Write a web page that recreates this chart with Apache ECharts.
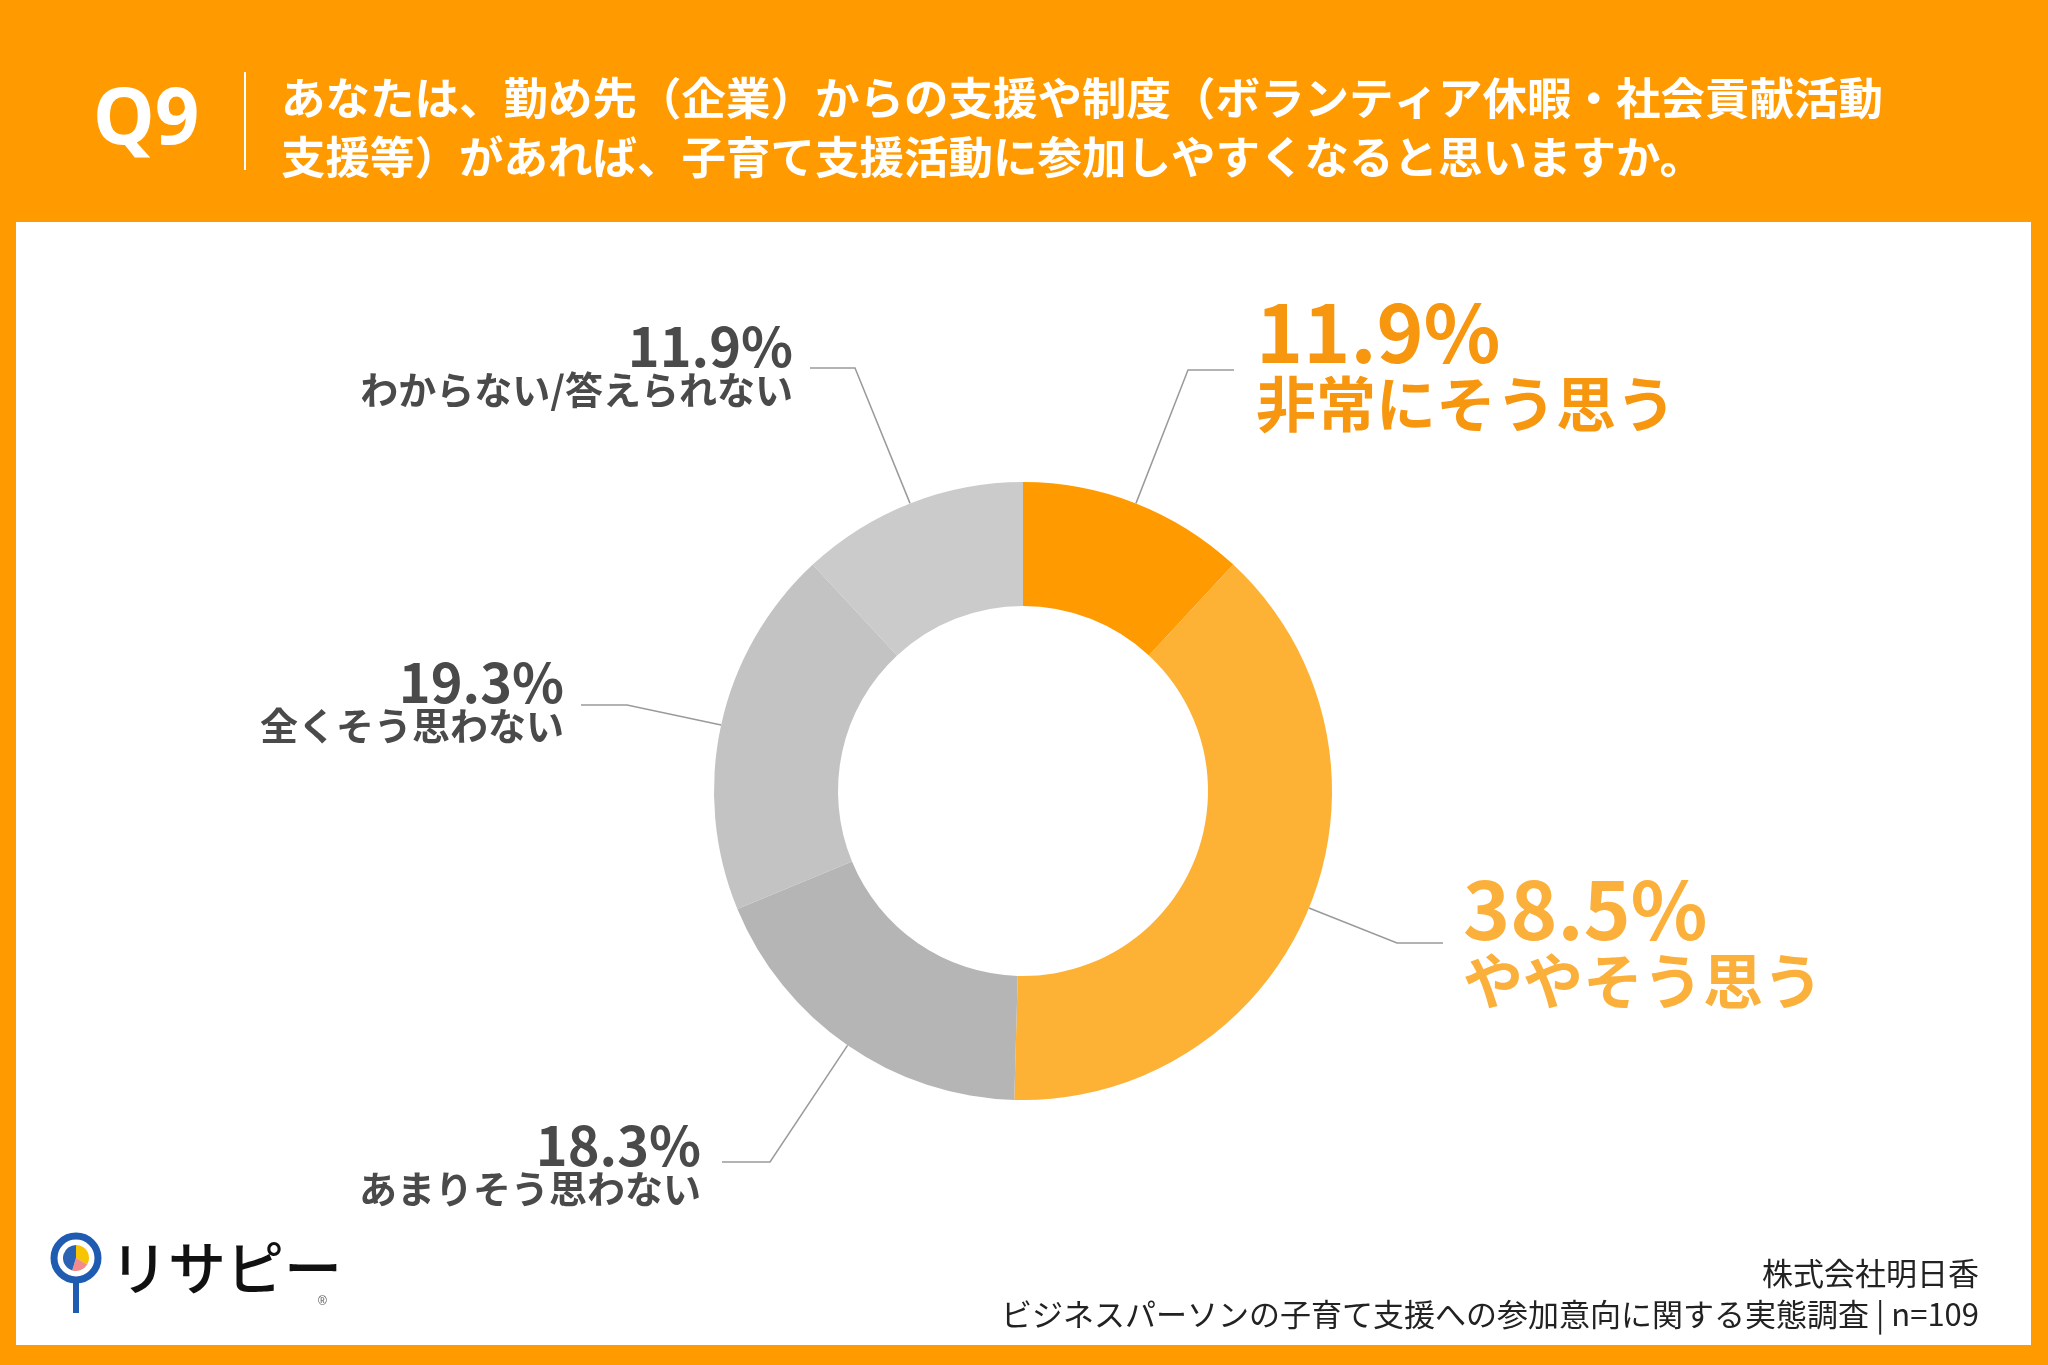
<!DOCTYPE html>
<html lang="ja">
<head>
    <meta charset="UTF-8">
    <title>Q9 子育て支援活動への参加</title>
    <script type="text/javascript" src="https://cdn.jsdelivr.net/npm/echarts@6/dist/echarts.min.js"></script>
    <style type="text/css">
        html, body { margin: 0; padding: 0; background: #ff9a00; }
        #main { width: 2048px; height: 1365px; }
    </style>
</head>
<body>
<div id="main"></div>
<script type="text/javascript">
    // データ
    var categories = ['非常にそう思う', 'ややそう思う', 'あまりそう思わない', '全くそう思わない', 'わからない/答えられない'];
    var values = [11.9, 38.5, 18.3, 19.3, 11.9];
    var titleLines = [
        'あなたは、勤め先（企業）からの支援や制度（ボランティア休暇・社会貢献活動',
        '支援等）があれば、子育て支援活動に参加しやすくなると思いますか。'
    ];
    var sourceLines = ['株式会社明日香', 'ビジネスパーソンの子育て支援への参加意向に関する実態調査 | n=109'];

    var sliceColors = ['#ff9a00', '#fdb135', '#b5b5b5', '#c3c3c3', '#cbcbcb'];
    var FONT = '"Noto Sans CJK JP", "Noto Sans", sans-serif';

    // ラベル位置 (x, 上端y, 揃え, 折れ点, 終点)
    var labelPos = [
        { x: 1256, y: 295, align: 'left', elbow: [1188, 370], end: [1234, 370] },
        { x: 1463, y: 872, align: 'left', elbow: [1397, 943], end: [1443, 943] },
        { x: 701, y: 1122, align: 'right', elbow: [770, 1162], end: [722, 1162] },
        { x: 564, y: 659, align: 'right', elbow: [627, 705], end: [581, 705] },
        { x: 793, y: 323, align: 'right', elbow: [855, 368], end: [810, 368] }
    ];

    var chart = echarts.init(document.getElementById('main'));

    var pieData = categories.map(function (name, i) {
        var item = { name: name, value: values[i], itemStyle: { color: sliceColors[i] } };
        // オレンジ系の文字色
        if (i === 0) item.label = { color: '#f7960f' };
        if (i === 1) item.label = { color: '#fbb03b' };
        return item;
    });

    chart.setOption({
        backgroundColor: '#ff9a00',
        animation: false,
        graphic: [
            // 白い枠
            { type: 'rect', shape: { x: 16, y: 222, width: 2015, height: 1123 }, style: { fill: '#ffffff' } },
            // ヘッダー
            { type: 'text', x: 93, y: 122, style: { text: 'Q9', fill: '#fff', font: 'bold 78px "Noto Sans", sans-serif', textVerticalAlign: 'middle' } },
            { type: 'line', shape: { x1: 245, y1: 72, x2: 245, y2: 170 }, style: { stroke: '#fff', lineWidth: 2 } },
            { type: 'text', x: 281, y: 98, style: { text: titleLines[0], fill: '#fff', font: 'bold 44.5px ' + FONT, textVerticalAlign: 'middle' } },
            { type: 'text', x: 281, y: 157, style: { text: titleLines[1], fill: '#fff', font: 'bold 44.5px ' + FONT, textVerticalAlign: 'middle' } },
            // 出典
            { type: 'text', x: 1979, y: 1273, style: { text: sourceLines[0], fill: '#222', font: '31px ' + FONT, textAlign: 'right', textVerticalAlign: 'middle' } },
            { type: 'text', x: 1979, y: 1314, style: { text: sourceLines[1], fill: '#222', font: '31px ' + FONT, textAlign: 'right', textVerticalAlign: 'middle' } },
            // ロゴ
            { type: 'line', shape: { x1: 76, y1: 1280, x2: 76, y2: 1313 }, style: { stroke: '#1f5bb0', lineWidth: 6 } },
            { type: 'circle', shape: { cx: 76, cy: 1258, r: 22 }, style: { fill: '#fff', stroke: '#1f5bb0', lineWidth: 7 } },
            { type: 'sector', shape: { cx: 76, cy: 1258, r: 13, startAngle: -Math.PI / 2, endAngle: Math.PI / 6 }, style: { fill: '#f6c400' } },
            { type: 'sector', shape: { cx: 76, cy: 1258, r: 13, startAngle: Math.PI / 6, endAngle: Math.PI / 2 + 0.3 }, style: { fill: '#f28b8b' } },
            { type: 'sector', shape: { cx: 76, cy: 1258, r: 13, startAngle: Math.PI / 2 + 0.3, endAngle: Math.PI * 1.5 }, style: { fill: '#2a63b3' } },
            { type: 'text', x: 110, y: 1268, style: { text: 'リサピー', fill: '#111', font: '500 58px ' + FONT, textVerticalAlign: 'middle' } },
            { type: 'text', x: 318, y: 1296, style: { text: '®', fill: '#555', font: '12px sans-serif' } }
        ],
        series: [
            {
                type: 'pie',
                center: [1023, 791],
                radius: [185, 309],
                startAngle: 90,
                clockwise: true,
                avoidLabelOverlap: false,
                data: pieData,
                label: {
                    show: true,
                    position: 'outside',
                    fontFamily: FONT,
                    formatter: function (p) {
                        var tag = p.dataIndex < 2 ? 'o' : 'g';
                        return '{' + tag + 'n|' + p.value.toFixed(1) + '%}\n{' + tag + 't|' + p.name + '}';
                    },
                    rich: {
                        on: { fontSize: 80, fontWeight: 'bold', lineHeight: 76, fontFamily: FONT },
                        ot: { fontSize: 60, fontWeight: 'bold', lineHeight: 66, fontFamily: FONT },
                        gn: { fontSize: 54, fontWeight: 'bold', lineHeight: 46, fontFamily: FONT, color: '#4a4a4a' },
                        gt: { fontSize: 38, fontWeight: 'bold', lineHeight: 42, fontFamily: FONT, color: '#4a4a4a' }
                    }
                },
                labelLine: {
                    show: true,
                    lineStyle: { color: '#9a9a9a', width: 1.5 }
                },
                labelLayout: function (params) {
                    var lp = labelPos[params.dataIndex];
                    var start = params.labelLinePoints ? params.labelLinePoints[0] : lp.elbow;
                    return {
                        x: lp.x,
                        y: lp.y,
                        align: lp.align,
                        verticalAlign: 'top',
                        labelLinePoints: [start, lp.elbow, lp.end]
                    };
                },
                emphasis: { disabled: true }
            }
        ]
    });
</script>
</body>
</html>
